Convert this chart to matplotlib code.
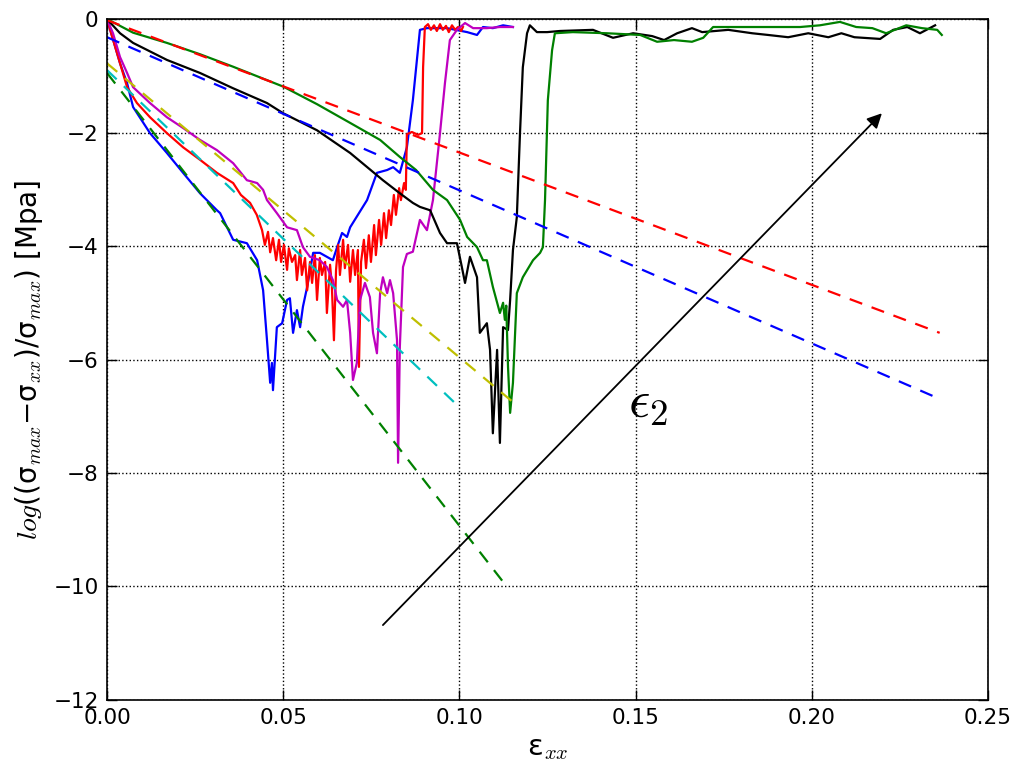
import matplotlib
matplotlib.use("Agg")
import matplotlib.pyplot as plt

plt.rcParams.update({
    "font.family": "DejaVu Sans",
    "font.size": 15.5,
    "mathtext.fontset": "custom",
    "mathtext.rm": "DejaVu Sans",
    "mathtext.it": "cmmi10",
    "mathtext.sf": "DejaVu Sans",
    "axes.linewidth": 1.2,
})

# ---- solid curves: strain vs log stress drop ----
blue_x = [0, 0.0037, 0.0057, 0.0074, 0.0122, 0.017, 0.0216, 0.0264, 0.0312, 0.0321,
          0.0358, 0.0397, 0.0426, 0.0443, 0.0454, 0.0463, 0.0468, 0.0471, 0.0482, 0.0497,
          0.0511, 0.0519, 0.0528, 0.0539, 0.0548, 0.0556, 0.0568, 0.0585, 0.0604, 0.0624,
          0.0641, 0.0653, 0.0667, 0.0681, 0.069, 0.0738, 0.0766, 0.0795, 0.0812, 0.0831,
          0.0851, 0.0868, 0.0888, 0.0908, 0.0965, 0.1022, 0.105, 0.1067, 0.1095, 0.1124, 0.1152]
blue_y = [0, -0.78, -1.13, -1.55, -2.01, -2.36, -2.71, -3.07, -3.37, -3.42,
          -3.89, -3.95, -4.25, -4.78, -5.66, -6.41, -6.06, -6.54, -5.43, -5.36,
          -4.95, -4.92, -5.53, -5.13, -5.43, -5.07, -4.72, -4.12, -4.12, -4.19,
          -4.25, -4.02, -3.77, -3.84, -3.67, -3.19, -2.71, -2.66, -2.61, -2.71,
          -2.26, -1.43, -0.19, -0.16, -0.16, -0.23, -0.28, -0.14, -0.16, -0.11, -0.14]

red_x = [0, 0.0037, 0.0057, 0.0085, 0.0122, 0.017, 0.0216, 0.0264, 0.0312, 0.0358,
         0.038, 0.0406, 0.0425,
         0.0440, 0.0448, 0.0457, 0.0463, 0.0471, 0.0480, 0.0488, 0.0494, 0.0502, 0.0511,
         0.0516, 0.0525, 0.0534, 0.0539, 0.0548, 0.0553, 0.0562, 0.0568, 0.0576, 0.0582,
         0.0590, 0.0596, 0.0604, 0.0610, 0.0619, 0.0624, 0.0633, 0.0638, 0.0644, 0.0650,
         0.0656, 0.0661, 0.0670, 0.0675, 0.0684, 0.0690, 0.0698, 0.0704, 0.0712, 0.0715,
         0.0721, 0.0729, 0.0735, 0.0743, 0.0749, 0.0758, 0.0763, 0.0772, 0.0778, 0.0786,
         0.0792, 0.0800, 0.0806, 0.0814, 0.0820, 0.0829, 0.0834, 0.0843, 0.0848,
         0.0851, 0.0865, 0.0883, 0.0894, 0.0897, 0.0902, 0.0911, 0.0919, 0.0928, 0.0936,
         0.0945, 0.0953, 0.0962, 0.0970, 0.0979, 0.0988, 0.0996, 0.1005, 0.1010]
red_y = [0, -0.78, -1.2, -1.48, -1.73, -2.01, -2.26, -2.48, -2.71, -2.89,
         -3.1, -3.24, -3.45,
         -3.72, -3.98, -3.75, -4.11, -3.86, -4.25, -3.89, -4.28, -3.98, -4.42,
         -4.04, -4.28, -4.16, -4.60, -4.07, -4.51, -4.21, -4.78, -4.28, -4.65,
         -4.16, -4.95, -4.21, -4.51, -4.28, -5.18, -4.33, -4.69, -5.66, -4.42,
         -3.98, -4.51, -3.89, -4.39, -3.98, -4.63, -4.07, -4.51, -4.07, -6.13,
         -4.28, -3.89, -4.39, -3.81, -4.28, -3.63, -4.16, -3.54, -3.98, -3.42,
         -3.86, -3.37, -3.63, -3.10, -3.45, -2.98, -3.19, -2.89, -3.01,
         -2.03, -1.99, -2.04, -2.01, -0.85, -0.14, -0.09, -0.19, -0.11, -0.21,
         -0.09, -0.19, -0.12, -0.23, -0.11, -0.19, -0.14, -0.21, -0.14]

mag_x = [0, 0.0017, 0.0037, 0.0057, 0.0074, 0.0122, 0.017, 0.0216, 0.0264, 0.0312,
         0.0358, 0.0397, 0.0426, 0.0443, 0.0454, 0.0482, 0.0511, 0.0539, 0.0556, 0.0576,
         0.0604, 0.0624, 0.0641, 0.0653, 0.067, 0.0681, 0.069, 0.0698, 0.0709, 0.0718,
         0.0732, 0.0746, 0.0755, 0.0766, 0.0775, 0.0783, 0.0795, 0.0803, 0.0812, 0.0823,
         0.0826, 0.0831, 0.084, 0.0851, 0.0868, 0.0888, 0.0908, 0.0925, 0.0945, 0.0959,
         0.0973, 0.0993, 0.1016, 0.1039, 0.1078, 0.1115, 0.1152]
mag_y = [0, -0.25, -0.67, -0.95, -1.2, -1.48, -1.73, -1.92, -2.13, -2.31,
         -2.54, -2.84, -2.89, -3.01, -3.19, -3.42, -3.67, -3.72, -4.02, -4.19,
         -4.25, -4.37, -4.6, -4.95, -5.07, -4.95, -5.53, -6.36, -6.06, -4.95,
         -4.65, -4.9, -5.53, -5.89, -4.83, -4.55, -4.83, -4.6, -4.83, -5.66,
         -7.82, -5.78, -4.37, -4.14, -4.1, -3.54, -3.72, -3.19, -2.01, -1.13,
         -0.37, -0.19, -0.07, -0.16, -0.16, -0.14, -0.14]

black_x = [0, 0.0037, 0.0074, 0.017, 0.0264, 0.0358, 0.0454, 0.05, 0.0596, 0.069,
           0.0783, 0.0831, 0.0868, 0.0888, 0.0917, 0.0945, 0.0965, 0.0993, 0.1007, 0.1016,
           0.103, 0.105, 0.1058, 0.1078, 0.1087, 0.1095, 0.1107, 0.1115, 0.1124, 0.1138,
           0.1144, 0.1152, 0.1163, 0.1172, 0.118, 0.1192, 0.12, 0.122, 0.1249, 0.1285,
           0.1379, 0.1436, 0.1493, 0.1547, 0.1581, 0.1618, 0.1660, 0.1689, 0.1763, 0.1831,
           0.1876, 0.1933, 0.1990, 0.2047, 0.2084, 0.2121, 0.2194, 0.2231, 0.2271, 0.2307,
           0.2350]
black_y = [0, -0.25, -0.42, -0.72, -0.95, -1.22, -1.48, -1.66, -1.96, -2.36,
           -2.84, -3.07, -3.24, -3.31, -3.37, -3.77, -3.95, -3.95, -4.37, -4.65,
           -4.19, -4.55, -5.53, -5.36, -5.83, -7.3, -5.83, -7.47, -5.43, -5.48,
           -4.95, -4.07, -3.49, -2.01, -0.85, -0.25, -0.11, -0.23, -0.23, -0.21,
           -0.19, -0.33, -0.25, -0.30, -0.37, -0.25, -0.16, -0.23, -0.19, -0.25,
           -0.28, -0.32, -0.25, -0.32, -0.25, -0.32, -0.35, -0.19, -0.14, -0.25,
           -0.11]

green_x = [0, 0.0074, 0.017, 0.0264, 0.0358, 0.05, 0.0596, 0.069, 0.0775, 0.0831,
           0.0877, 0.0925, 0.0965, 0.1002, 0.1022, 0.105, 0.1067, 0.1078, 0.1095, 0.1115,
           0.1124, 0.1129, 0.1133, 0.1138, 0.1144, 0.1152, 0.1163, 0.118, 0.1209, 0.1229,
           0.1237, 0.1243, 0.1251, 0.1263, 0.1271, 0.1322, 0.1419, 0.1513, 0.1561, 0.1609,
           0.1660, 0.1692, 0.1720, 0.1794, 0.1890, 0.1967, 0.2023, 0.2080, 0.2126, 0.2172,
           0.2211, 0.2268, 0.2313, 0.2356, 0.2369]
green_y = [0, -0.24, -0.42, -0.62, -0.84, -1.19, -1.5, -1.83, -2.13, -2.43,
           -2.66, -3.01, -3.19, -3.54, -3.84, -4.02, -4.25, -4.25, -4.72, -5.18,
           -5.0, -5.3, -5.05, -6.13, -6.94, -6.41, -4.83, -4.55, -4.25, -4.12,
           -4.02, -3.19, -1.43, -0.55, -0.25, -0.23, -0.25, -0.28, -0.40, -0.37,
           -0.40, -0.33, -0.14, -0.14, -0.14, -0.14, -0.11, -0.05, -0.14, -0.16,
           -0.25, -0.11, -0.16, -0.19, -0.28]

# ---- dashed exponential fits ----
fit_x = {"r": [0, 0.2363], "b": [0, 0.235], "y": [0, 0.1152],
         "c": [0, 0.0993], "g": [0, 0.1138]}
fit_y = {"r": [-0.02, -5.53], "b": [-0.32, -6.66], "y": [-0.78, -6.75],
         "c": [-0.9, -6.8], "g": [-0.95, -10.03]}

arrow_start = (0.0783, -10.68)
arrow_end = (0.2199, -1.66)

fig = plt.figure(figsize=(10.22, 7.72), dpi=100)
ax = fig.add_axes([0.1047, 0.0933, 0.862, 0.882])

lw = 1.6
dash = (0, (6, 4.5))
ax.plot(blue_x, blue_y, color="b", lw=lw)
ax.plot(red_x, red_y, color="r", lw=lw)
ax.plot(mag_x, mag_y, color="m", lw=lw)
ax.plot(black_x, black_y, color="k", lw=lw)
ax.plot(green_x, green_y, color="g", lw=lw)
for c in ["r", "b", "y", "c", "g"]:
    ax.plot(fit_x[c], fit_y[c], color=c, lw=lw, ls=dash)

ax.annotate("", xy=arrow_end, xytext=arrow_start,
            arrowprops=dict(arrowstyle="-|>", color="k", lw=1.3,
                            mutation_scale=22, shrinkA=0, shrinkB=0))
ax.text(0.1535, -6.75, r"$\epsilon_2$", fontsize=38, ha="center", va="center",
        math_fontfamily="cm")

ax.set_xlim(0, 0.25)
ax.set_ylim(-12, 0)
ax.set_xticks([0, 0.05, 0.10, 0.15, 0.20, 0.25])
ax.set_xticklabels(["0.00", "0.05", "0.10", "0.15", "0.20", "0.25"])
ax.set_yticks([-12, -10, -8, -6, -4, -2, 0])
ax.tick_params(direction="in", length=7, width=1, top=True, right=True, pad=6)
ax.grid(True, color="k", ls=":", lw=1)

ax.set_xlabel(r"$\mathrm{ε}_{xx}$", fontsize=21, labelpad=4)
ax.set_ylabel(r"$log((\mathrm{σ}_{max}\mathrm{−σ}_{xx})/\mathrm{σ}_{max})$ [Mpa]",
              fontsize=20, labelpad=6)

fig.savefig("out.png", dpi=100)
